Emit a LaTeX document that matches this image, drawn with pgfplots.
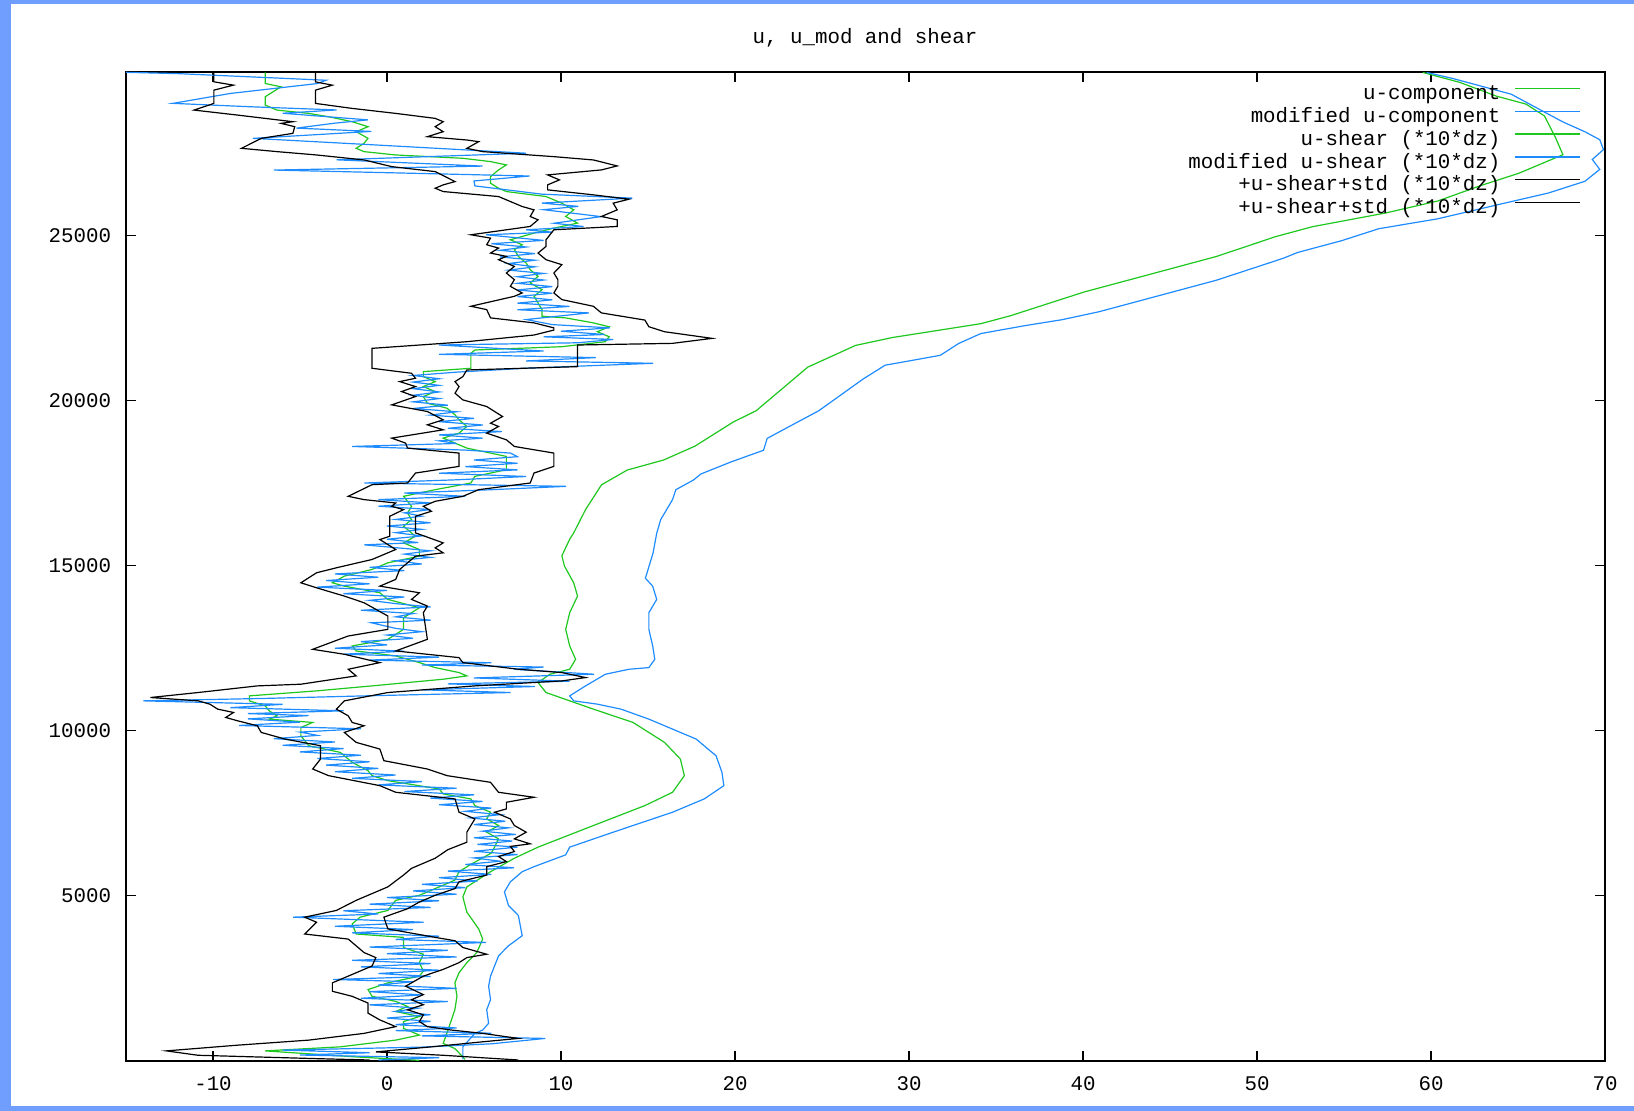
\documentclass[border=0pt]{standalone}
\usepackage{pgfplots}
\pgfplotsset{compat=1.18}
\usepackage{fontspec}
\setmainfont{Liberation Mono}
\definecolor{frameblue}{RGB}{112,158,255}
\definecolor{gpgreen}{RGB}{30,200,30}
\definecolor{gpblue}{RGB}{30,140,255}
\newcommand{\gpfont}{\fontsize{10.4pt}{12pt}\selectfont}
\begin{document}
\begin{tikzpicture}
\useasboundingbox (0,0) rectangle (817pt,555.5pt);
\fill[frameblue] (0,0) rectangle (817pt,555.5pt);
\fill[white] (5.5pt,2.5pt) rectangle (817pt,553.5pt);
\node[font=\gpfont, anchor=center, inner sep=0pt] at (432.5pt,536.75pt) {u, u\_mod and shear};
\begin{axis}[
  at={(63pt,25pt)}, anchor=south west,
  scale only axis, width=739.5pt, height=494.5pt,
  xmin=-15, xmax=70, ymin=0, ymax=29950,
  xtick={-10,0,10,20,30,40,50,60,70},
  xticklabels={-10,0,10,20,30,40,50,60,70},
  ytick={5000,10000,15000,20000,25000},
  yticklabels={5000,10000,15000,20000,25000},
  scaled y ticks=false, scaled x ticks=false,
  tick align=inside, major tick length=5pt,
  every tick/.style={black, line width=0.6pt},
  axis line style={line width=0.75pt},
  ticklabel style={font=\gpfont, inner sep=0pt},
  xticklabel style={anchor=center, yshift=-11.5pt},
  yticklabel style={anchor=east, xshift=-7.25pt},
  legend plot pos=right, legend cell align=right,
  legend style={draw=none, fill=none, font=\gpfont, at={(1,1)}, anchor=north east,
    xshift=-12pt, yshift=-6pt, row sep=1.95pt, column sep=7pt, inner sep=0pt,
    nodes={inner sep=0pt, text height=7.5pt, text depth=2pt}},
  legend image code/.code={\draw[#1] (0pt,2.8pt) -- (32.5pt,2.8pt);},
]
% u-component
\addplot[gpgreen, mark=none, line width=0.6pt] table {
4.48 50
4.36 122
3.90 377
3.23 530
3.57 1040
3.90 1550
4.02 1958
3.90 2366
4.14 2672
4.59 2978
5.16 3284
5.50 3692
5.27 3998
4.59 4508
4.36 4967
4.59 5273
5.95 5732
7.32 6140
8.68 6476
11.86 7130
14.82 7734
16.41 8137
17.09 8641
16.86 9144
15.95 9648
14.14 10252
11.86 10655
10.50 10906
9.14 11158
8.68 11460
9.36 11712
10.50 11863
10.84 12165
10.50 12568
10.27 13071
10.50 13575
10.95 14078
10.73 14481
10.20 14985
10.05 15300
10.50 15800
10.73 15992
11.41 16697
12.33 17450
13.81 17896
15.90 18200
17.70 18620
19.90 19350
21.22 19693
22.70 20352
24.18 21011
26.93 21670
29.05 21909
34.13 22328
35.83 22568
40.06 23287
43.45 23766
47.68 24365
51.07 24964
53.18 25264
57.42 25683
60.38 26042
62.92 26521
65.04 26881
67.58 27444
67.16 27959
66.52 28618
65.46 28977
63.77 29217
61.65 29636
59.53 29936
};
\addlegendentry{u-component}
% modified u-component
\addplot[gpblue, mark=none, line width=0.6pt] table {
4.36 50
4.36 224
4.36 428
5.05 836
5.50 938
5.84 1142
5.73 1550
5.95 1856
5.84 2264
5.95 2570
6.18 2876
6.41 3182
6.98 3488
7.77 3794
7.66 4100
7.55 4406
6.98 4712
6.75 5120
7.09 5426
7.77 5732
8.45 5885
10.27 6242
10.50 6476
13.00 6929
16.41 7533
18.23 7936
19.36 8338
19.25 8741
18.91 9245
18.45 9446
17.77 9748
16.41 10050
15.05 10352
13.45 10655
12.09 10806
10.73 10906
10.50 11057
11.41 11359
12.55 11712
13.91 11863
15.05 11913
15.39 12165
15.27 12568
15.05 13071
15.05 13575
15.50 13978
15.27 14380
14.85 14620
15.29 15380
15.50 15979
15.73 16395
16.41 16999
16.60 17300
17.62 17596
18.04 17776
19.74 18135
21.64 18495
21.85 18854
23.12 19214
24.82 19693
26.09 20172
27.36 20651
28.63 21071
29.90 21190
31.80 21370
32.86 21730
34.13 22029
36.67 22269
38.79 22448
40.91 22688
43.45 23047
47.68 23646
51.49 24305
52.34 24485
54.88 24844
57.00 25204
60.38 25503
63.77 25922
66.73 26282
68.85 26641
69.70 27001
69.27 27300
69.91 27600
69.70 27899
68.85 28139
67.58 28438
65.88 28917
64.61 29277
63.34 29457
61.23 29756
59.75 29936
};
\addlegendentry{modified u-component}
% u-shear
\addplot[gpgreen, mark=none, line width=0.6pt] table {
1.86 20
-1.77 122
-7.00 306
-2.70 428
0.50 632
1.86 785
0.95 989
0.95 1193
1.86 1346
0.50 1499
1.18 1652
0.50 1805
-0.86 1958
-1.09 2162
0.05 2366
1.86 2570
2.09 2723
1.86 2978
2.09 3233
0.95 3437
0.95 3743
-1.77 3845
-2.00 4151
-1.55 4355
0.05 4559
0.50 4865
1.86 5018
3.23 5324
3.90 5477
4.14 5732
4.80 5950
5.50 6150
6.00 6300
6.18 6476
6.41 6727
5.73 6929
6.41 7130
5.73 7331
5.95 7533
5.05 7734
4.82 7936
3.23 8087
3.00 8238
0.05 8490
-0.86 8641
-1.09 8792
-2.00 9043
-2.68 9345
-4.50 9547
-4.95 9849
-4.95 10101
-4.27 10252
-6.77 10352
-6.32 10453
-6.77 10604
-7.00 10755
-7.91 10906
-7.91 11057
-4.05 11208
-0.86 11359
3.23 11561
4.59 11662
4.14 11762
2.77 11913
1.86 12064
0.50 12266
-1.77 12417
-2.00 12568
0.05 12769
0.95 13071
0.95 13424
1.41 13575
1.86 13726
0.05 13978
-0.41 14179
-2.45 14380
-3.14 14481
-2.45 14683
-0.86 14885
0.05 15086
1.86 15287
1.86 15489
0.95 15690
1.64 15891
0.95 16194
1.41 16395
1.18 16596
1.41 16798
0.95 17100
2.77 17301
4.82 17503
5.05 17704
6.86 17905
6.86 18107
6.86 18308
5.95 18409
4.59 18560
3.91 18711
3.23 18862
4.14 19013
4.59 19215
4.14 19416
3.91 19567
3.45 19768
2.32 19919
2.09 20121
2.77 20272
2.09 20423
2.77 20574
2.09 20725
2.09 20876
4.82 20977
4.82 21430
5.05 21531
10.05 21631
12.55 21782
12.77 21933
12.09 22084
12.77 22235
11.86 22352
10.27 22503
8.91 22553
8.91 22754
8.68 22956
8.45 23157
8.91 23359
8.23 23560
8.68 23761
8.23 23963
8.00 24164
7.55 24366
7.32 24567
7.77 24718
7.09 24869
8.45 25070
9.59 25222
10.95 25373
10.27 25574
10.73 25775
10.05 25977
9.14 26178
6.86 26329
6.41 26430
5.95 26581
5.95 26782
6.41 26984
6.86 27135
5.95 27236
4.36 27336
0.50 27437
-1.32 27538
-1.77 27638
-1.32 27789
-1.09 27940
-1.77 28142
-1.09 28293
-2.00 28444
-3.36 28595
-4.50 28696
-6.32 28796
-7.00 28947
-7.00 29199
-6.55 29350
-6.09 29501
-7.00 29602
-7.00 29940
};
\addlegendentry{u-shear (*10*dz)}
% modified u-shear
\addplot[gpblue, mark=none, line width=0.6pt] table {
-0.5 30
3.0 100
-5.0 180
-1.0 250
-6.0 330
2.0 420
6.0 520
9.1 683
2.0 760
6.0 840
0.5 920
4.0 1000
0.5 1100
2.5 1200
0.0 1300
2.5 1400
0.5 1500
1.8 1600
-1.0 1700
3.5 1800
-1.5 1900
2.0 2000
-1.0 2100
4.0 2200
-0.5 2300
1.5 2400
-3.1 2468
2.5 2560
-0.5 2650
3.0 2750
-1.5 2850
2.5 2950
-2.0 3050
4.0 3150
0.0 3250
3.5 3350
-1.0 3450
5.7 3590
0.5 3680
3.0 3780
-2.0 3880
1.5 3980
-3.0 4080
2.1 4202
-5.4 4355
-0.5 4450
-2.5 4550
2.5 4650
-1.0 4750
3.0 4850
0.0 4950
4.0 5050
1.5 5150
4.5 5250
2.0 5350
5.2 5450
3.0 5550
6.0 5650
3.5 5750
7.3 5850
4.5 5950
6.5 6050
5.0 6150
7.5 6250
5.0 6350
7.5 6476
5.2 6560
7.2 6660
5.0 6760
7.4 6860
5.5 6960
7.0 7060
5.0 7160
6.8 7260
4.8 7360
6.5 7460
4.5 7560
6.0 7660
3.0 7760
5.5 7860
2.5 7960
5.0 8060
1.0 8160
4.0 8260
-0.5 8360
2.0 8460
-2.0 8560
0.5 8660
-3.0 8760
-0.5 8860
-3.5 8960
-1.0 9060
-4.0 9160
-1.5 9260
-5.0 9360
-2.5 9460
-6.0 9560
-3.0 9660
-6.5 9760
-4.0 9860
-5.0 9960
-1.5 10060
-8.5 10160
-5.0 10260
-8.0 10360
-4.5 10460
-8.0 10520
-2.5 10604
-9.0 10700
-6.0 10800
-14.0 10906
-7.0 10980
-1.0 11060
7.1 11158
2.0 11240
8.5 11340
3.5 11420
10.5 11500
5.0 11600
11.9 11712
7.3 11863
9.0 11930
2.0 11990
6.0 12060
-1.0 12140
3.0 12230
-2.5 12320
1.0 12410
-3.0 12500
0.0 12600
-1.5 12700
1.5 12800
0.0 12900
2.0 13000
0.5 13100
-0.9 13270
2.5 13350
0.5 13450
1.5 13550
-1.5 13650
2.5 13750
0.5 13850
-1.0 13950
1.0 14050
-2.5 14150
0.0 14250
-4.0 14350
-1.0 14450
-3.5 14550
-0.5 14650
-3.0 14750
1.0 14850
-1.0 14950
2.0 15050
0.5 15150
2.5 15250
1.0 15350
2.5 15450
-1.3 15630
1.8 15700
0.0 15800
2.0 15900
0.5 16000
2.0 16100
0.0 16200
2.5 16300
0.5 16400
2.0 16500
1.0 16600
2.5 16700
-0.5 16800
2.5 16900
-0.5 17000
4.5 17100
1.0 17200
6.0 17300
10.3 17402
-1.3 17503
4.0 17600
8.0 17700
3.0 17800
7.5 17900
4.5 18000
7.5 18100
5.0 18200
7.5 18300
7.1 18409
4.5 18500
-2.0 18610
4.0 18700
3.0 18780
5.5 18860
3.0 18960
6.6 19060
3.5 19160
5.5 19260
3.0 19360
5.0 19460
2.5 19560
4.0 19660
1.5 19760
3.5 19860
1.5 19960
3.0 20060
1.5 20160
3.0 20260
1.5 20360
3.0 20460
1.5 20560
3.0 20660
1.5 20760
4.0 20860
8.0 20980
15.3 21128
8.0 21200
12.0 21300
3.0 21400
9.0 21500
3.0 21682
11.0 21750
13.0 21850
9.0 21930
12.5 22000
10.0 22100
12.8 22201
9.5 22300
8.0 22453
11.6 22654
7.5 22750
10.5 22850
7.5 22950
9.5 23050
7.5 23150
9.5 23250
7.5 23350
9.5 23450
7.5 23550
9.0 23650
7.5 23750
9.0 23850
7.0 23950
8.5 24050
7.0 24150
8.5 24250
6.5 24350
8.5 24450
6.5 24550
8.0 24650
6.0 24750
9.0 24850
5.7 25020
9.5 25100
8.0 25170
11.3 25270
9.6 25370
12.3 25570
9.0 25780
11.0 25880
8.9 25980
14.1 26130
8.9 26250
5.05 26500
5.0 26650
8.2 26800
-6.5 26980
5.5 27100
-2.9 27290
8.0 27490
-1.0 27750
-7.7 27940
-0.9 28150
-5.2 28250
-3.0 28400
-1.1 28500
-6.0 28700
-2.9 28800
-8.0 28900
-12.3 29000
-9.0 29300
-4.0 29600
-3.5 29700
-12.0 29900
-15.0 29940
};
\addlegendentry{modified u-shear (*10*dz)}
% +u-shear+std
\addplot[black, mark=none, line width=0.6pt] table {
7.55 30
3.23 173
-0.64 275
2.55 428
5.50 581
7.55 683
5.50 836
3.68 938
2.32 1040
1.86 1193
2.09 1397
1.18 1550
2.09 1703
1.41 1856
2.09 2009
1.07 2264
2.09 2570
3.23 2774
4.14 2978
4.59 3131
5.73 3233
4.36 3437
3.91 3641
2.77 3743
0.05 4000
-0.18 4355
1.18 4610
1.86 4814
2.77 5018
3.91 5222
4.14 5426
5.73 5630
5.73 5885
6.86 6038
6.41 6191
7.32 6344
7.09 6497
8.23 6576
7.32 6727
8.00 6929
7.32 7130
7.09 7331
6.18 7533
6.86 7633
6.86 7835
8.45 7986
6.41 8137
5.95 8439
3.45 8641
2.32 8842
-0.18 9094
-0.41 9446
-1.77 9648
-2.23 9849
-2.45 9950
-1.32 10151
-2.00 10252
-2.23 10453
-2.91 10655
-2.45 10906
0.05 11158
5.05 11359
10.05 11510
11.41 11611
10.05 11762
7.55 11863
4.36 12064
4.14 12215
0.50 12417
2.32 12769
2.09 13575
2.32 13776
1.41 13978
1.86 14179
-0.41 14380
0.50 14583
0.73 14885
1.18 15086
1.64 15287
3.23 15388
2.77 15539
3.23 15690
1.64 15992
1.64 16496
2.55 16647
2.09 16798
2.77 16949
4.36 17100
5.27 17301
8.23 17503
8.45 17805
9.59 18006
9.59 18409
7.32 18610
6.86 18812
5.73 19013
6.41 19215
5.95 19315
6.64 19517
5.73 19819
4.36 20020
3.91 20222
4.14 20423
3.91 20574
4.36 20725
4.59 20926
10.95 21027
10.95 21682
16.41 21732
18.68 21883
15.95 22084
15.05 22235
14.82 22437
12.32 22654
11.86 22855
10.05 23057
9.59 23258
9.82 23460
9.82 23661
9.59 23862
10.05 24114
9.14 24265
8.68 24466
9.14 24668
9.14 24869
9.59 25171
13.23 25272
13.23 25473
12.32 25574
13.23 25775
13.00 25977
13.91 26098
11.86 26229
9.23 26380
9.23 26531
9.91 26682
9.23 26833
12.32 26984
13.23 27105
11.86 27286
9.59 27386
5.50 27538
4.59 27638
5.27 27840
4.59 27890
2.32 27991
3.23 28142
2.77 28293
3.23 28444
2.77 28545
0.50 28696
-2.00 28847
-4.11 28998
-4.11 29400
-3.14 29551
-4.11 29650
-4.11 29940
};
\addlegendentry{+u-shear+std (*10*dz)}
% lower envelope
\addplot[black, mark=none, line width=0.6pt] table {
-1.00 30
-4.05 71
-10.86 173
-12.68 306
-8.59 479
-4.50 632
-1.32 836
0.50 1040
-0.41 1244
-1.09 1448
-1.09 1754
-2.00 1958
-3.14 2111
-3.14 2366
-2.23 2570
-0.86 2876
-0.64 3131
-1.32 3284
-2.23 3692
-4.73 3845
-4.05 4202
-4.73 4355
-2.91 4559
-1.77 4865
0.05 5273
0.95 5630
1.41 5834
2.77 6140
3.50 6400
4.59 6626
4.59 6929
5.05 7331
4.14 7533
3.91 7936
0.50 8137
-0.41 8338
-3.36 8641
-4.27 8842
-3.82 9144
-3.82 9547
-5.86 9748
-7.23 9950
-7.45 10151
-8.59 10302
-9.27 10403
-8.82 10554
-9.73 10655
-10.18 10806
-10.86 10906
-13.59 11007
-10.86 11158
-7.45 11359
-4.95 11410
-1.77 11662
-2.23 11863
-0.41 12064
-2.45 12316
-4.27 12467
-2.23 12870
0.05 13071
0.05 13474
-1.32 13877
-2.45 14078
-4.05 14330
-4.95 14481
-4.05 14784
-2.91 14935
-0.86 15187
0.50 15489
-0.41 15791
0.16 15891
0.16 16496
0.95 16697
0.27 16798
0.50 16898
-1.32 17000
-2.23 17100
-0.86 17452
1.18 17503
1.64 17805
4.14 18006
4.14 18409
1.18 18560
1.07 18711
0.27 18862
3.23 19114
2.32 19265
3.23 19416
2.32 19668
0.27 19869
1.64 20121
0.84 20272
1.64 20423
0.73 20574
1.64 20675
1.41 20826
-0.86 20977
-0.86 21581
4.59 21782
8.45 21984
9.59 22135
9.59 22201
8.45 22352
5.95 22503
5.73 22754
4.82 22855
7.32 23157
7.77 23258
7.09 23459
7.32 23661
6.86 23862
7.32 24063
6.41 24265
6.86 24366
5.95 24466
6.41 24617
5.73 24718
5.95 24919
4.82 25020
8.23 25272
8.68 25473
8.23 25574
8.45 25775
7.77 25876
6.41 26178
3.23 26329
2.77 26430
3.23 26531
3.91 26631
2.77 26933
0.27 27084
-1.32 27286
-4.05 27437
-6.32 27538
-8.36 27638
-7.23 27940
-5.41 28091
-5.30 28293
-6.09 28394
-5.41 28444
-8.59 28645
-11.09 28796
-9.95 28998
-9.95 29400
-8.82 29552
-9.95 29652
-9.95 29940
};
\addlegendentry{+u-shear+std (*10*dz)}
\end{axis}
\end{tikzpicture}
\end{document}
